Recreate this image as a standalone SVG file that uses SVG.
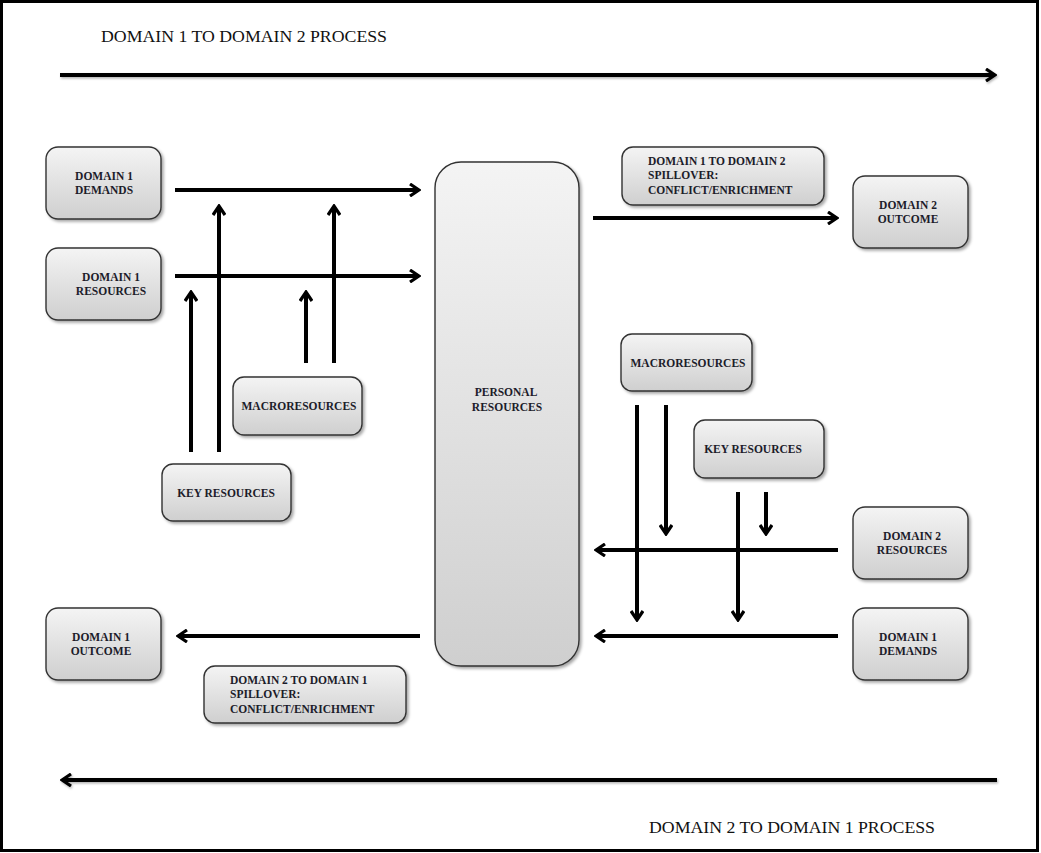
<svg xmlns="http://www.w3.org/2000/svg" width="1041" height="853" viewBox="0 0 1041 853">
  <defs>
    <linearGradient id="boxFill" x1="0" y1="0" x2="0" y2="1">
      <stop offset="0" stop-color="#f4f4f4"/>
      <stop offset="1" stop-color="#cfcfcf"/>
    </linearGradient>
    <filter id="shadow" x="-10%" y="-10%" width="130%" height="130%">
      <feDropShadow dx="2" dy="2" stdDeviation="1.5" flood-color="#000" flood-opacity="0.35"/>
    </filter>
    <filter id="lineShadow" filterUnits="userSpaceOnUse" x="0" y="0" width="1041" height="853">
      <feDropShadow dx="1" dy="1.5" stdDeviation="1" flood-color="#000" flood-opacity="0.3"/>
    </filter>
    <marker id="head" markerWidth="12" markerHeight="14" viewBox="0 0 12 14" refX="10" refY="7" orient="auto" markerUnits="userSpaceOnUse">
      <path d="M1,1 L10,7 L1,13" fill="none" stroke="#000" stroke-width="3.2" stroke-linejoin="miter"/>
    </marker>
  </defs>
  <style>
    .box { fill: url(#boxFill); stroke: #333; stroke-width: 1.4; filter: url(#shadow); }
    .lbl { font-family: "Liberation Serif", "DejaVu Serif", serif; font-weight: bold; font-size: 11.5px; fill: #1c1c2a; }
    .title { font-family: "Liberation Serif", "DejaVu Serif", serif; font-size: 17px; fill: #111; }
    .arr { stroke: #000; stroke-width: 4; fill: none; marker-end: url(#head); }
    .big { stroke: #000; stroke-width: 4; fill: none; marker-end: url(#head); filter: url(#lineShadow); }
  </style>

  <rect width="1041" height="853" fill="#fff"/>
  <rect x="1.5" y="1.5" width="1036" height="849" fill="none" stroke="#000" stroke-width="3"/>

  <text class="title" x="101" y="42" textLength="286" lengthAdjust="spacingAndGlyphs">DOMAIN 1 TO DOMAIN 2 PROCESS</text>
  <text class="title" x="649" y="833" textLength="286" lengthAdjust="spacingAndGlyphs">DOMAIN 2 TO DOMAIN 1 PROCESS</text>

  <g id="connectors">
    <!-- overall process arrows -->
    <line class="big" x1="60" y1="75" x2="995" y2="75"/>
    <line class="big" x1="997" y1="780" x2="62" y2="780"/>

    <!-- domain 1 inputs into personal resources -->
    <line class="arr" x1="175" y1="190" x2="419" y2="190"/>
    <line class="arr" x1="175" y1="276" x2="419" y2="276"/>
    <line class="arr" x1="219" y1="452" x2="219" y2="206"/>
    <line class="arr" x1="334" y1="363" x2="334" y2="206"/>
    <line class="arr" x1="191" y1="452" x2="191" y2="292"/>
    <line class="arr" x1="306" y1="363" x2="306" y2="292"/>

    <line class="arr" x1="593" y1="218" x2="837" y2="218"/>

    <!-- domain 2 inputs into personal resources -->
    <line class="arr" x1="637" y1="405" x2="637" y2="620"/>
    <line class="arr" x1="666" y1="405" x2="666" y2="534"/>
    <line class="arr" x1="738" y1="492" x2="738" y2="620"/>
    <line class="arr" x1="766" y1="492" x2="766" y2="534"/>
    <line class="arr" x1="838" y1="550" x2="596" y2="550"/>
    <line class="arr" x1="838" y1="636" x2="596" y2="636"/>

    <line class="arr" x1="420" y1="636" x2="178" y2="636"/>
  </g>

  <g id="d1-demands">
    <rect class="box" x="46" y="147" width="115" height="72" rx="12"/>
    <text class="lbl" x="104" y="180" text-anchor="middle">DOMAIN 1</text>
    <text class="lbl" x="104" y="194" text-anchor="middle">DEMANDS</text>
  </g>
  <g id="d1-resources">
    <rect class="box" x="46" y="248" width="115" height="72" rx="12"/>
    <text class="lbl" x="111" y="281" text-anchor="middle">DOMAIN 1</text>
    <text class="lbl" x="111" y="295" text-anchor="middle">RESOURCES</text>
  </g>
  <g id="macro-left">
    <rect class="box" x="233" y="377" width="129" height="58" rx="11"/>
    <text class="lbl" x="299" y="410" text-anchor="middle">MACRORESOURCES</text>
  </g>
  <g id="key-left">
    <rect class="box" x="162" y="464" width="129" height="57" rx="11"/>
    <text class="lbl" x="226" y="497" text-anchor="middle">KEY RESOURCES</text>
  </g>
  <g id="personal">
    <rect class="box" x="435" y="162" width="144" height="504" rx="26"/>
    <text class="lbl" x="506" y="396" text-anchor="middle">PERSONAL</text>
    <text class="lbl" x="507" y="411" text-anchor="middle">RESOURCES</text>
  </g>
  <g id="spill-1-2">
    <rect class="box" x="622" y="147" width="202" height="58" rx="11"/>
    <text class="lbl" x="648" y="165">DOMAIN 1 TO DOMAIN 2</text>
    <text class="lbl" x="648" y="179">SPILLOVER:</text>
    <text class="lbl" x="648" y="194">CONFLICT/ENRICHMENT</text>
  </g>
  <g id="d2-outcome">
    <rect class="box" x="853" y="176" width="115" height="72" rx="12"/>
    <text class="lbl" x="908" y="209" text-anchor="middle">DOMAIN 2</text>
    <text class="lbl" x="908" y="223" text-anchor="middle">OUTCOME</text>
  </g>
  <g id="macro-right">
    <rect class="box" x="621" y="334" width="131" height="57" rx="11"/>
    <text class="lbl" x="688" y="367" text-anchor="middle">MACRORESOURCES</text>
  </g>
  <g id="key-right">
    <rect class="box" x="694" y="420" width="130" height="58" rx="11"/>
    <text class="lbl" x="753" y="453" text-anchor="middle">KEY RESOURCES</text>
  </g>
  <g id="d2-resources">
    <rect class="box" x="853" y="507" width="115" height="72" rx="12"/>
    <text class="lbl" x="912" y="540" text-anchor="middle">DOMAIN 2</text>
    <text class="lbl" x="912" y="554" text-anchor="middle">RESOURCES</text>
  </g>
  <g id="d1-demands-right">
    <rect class="box" x="853" y="608" width="115" height="72" rx="12"/>
    <text class="lbl" x="908" y="641" text-anchor="middle">DOMAIN 1</text>
    <text class="lbl" x="908" y="655" text-anchor="middle">DEMANDS</text>
  </g>
  <g id="d1-outcome">
    <rect class="box" x="46" y="608" width="115" height="72" rx="12"/>
    <text class="lbl" x="101" y="641" text-anchor="middle">DOMAIN 1</text>
    <text class="lbl" x="101" y="655" text-anchor="middle">OUTCOME</text>
  </g>
  <g id="spill-2-1">
    <rect class="box" x="204" y="666" width="202" height="57" rx="11"/>
    <text class="lbl" x="230" y="684">DOMAIN 2 TO DOMAIN 1</text>
    <text class="lbl" x="230" y="698">SPILLOVER:</text>
    <text class="lbl" x="230" y="713">CONFLICT/ENRICHMENT</text>
  </g>
</svg>
